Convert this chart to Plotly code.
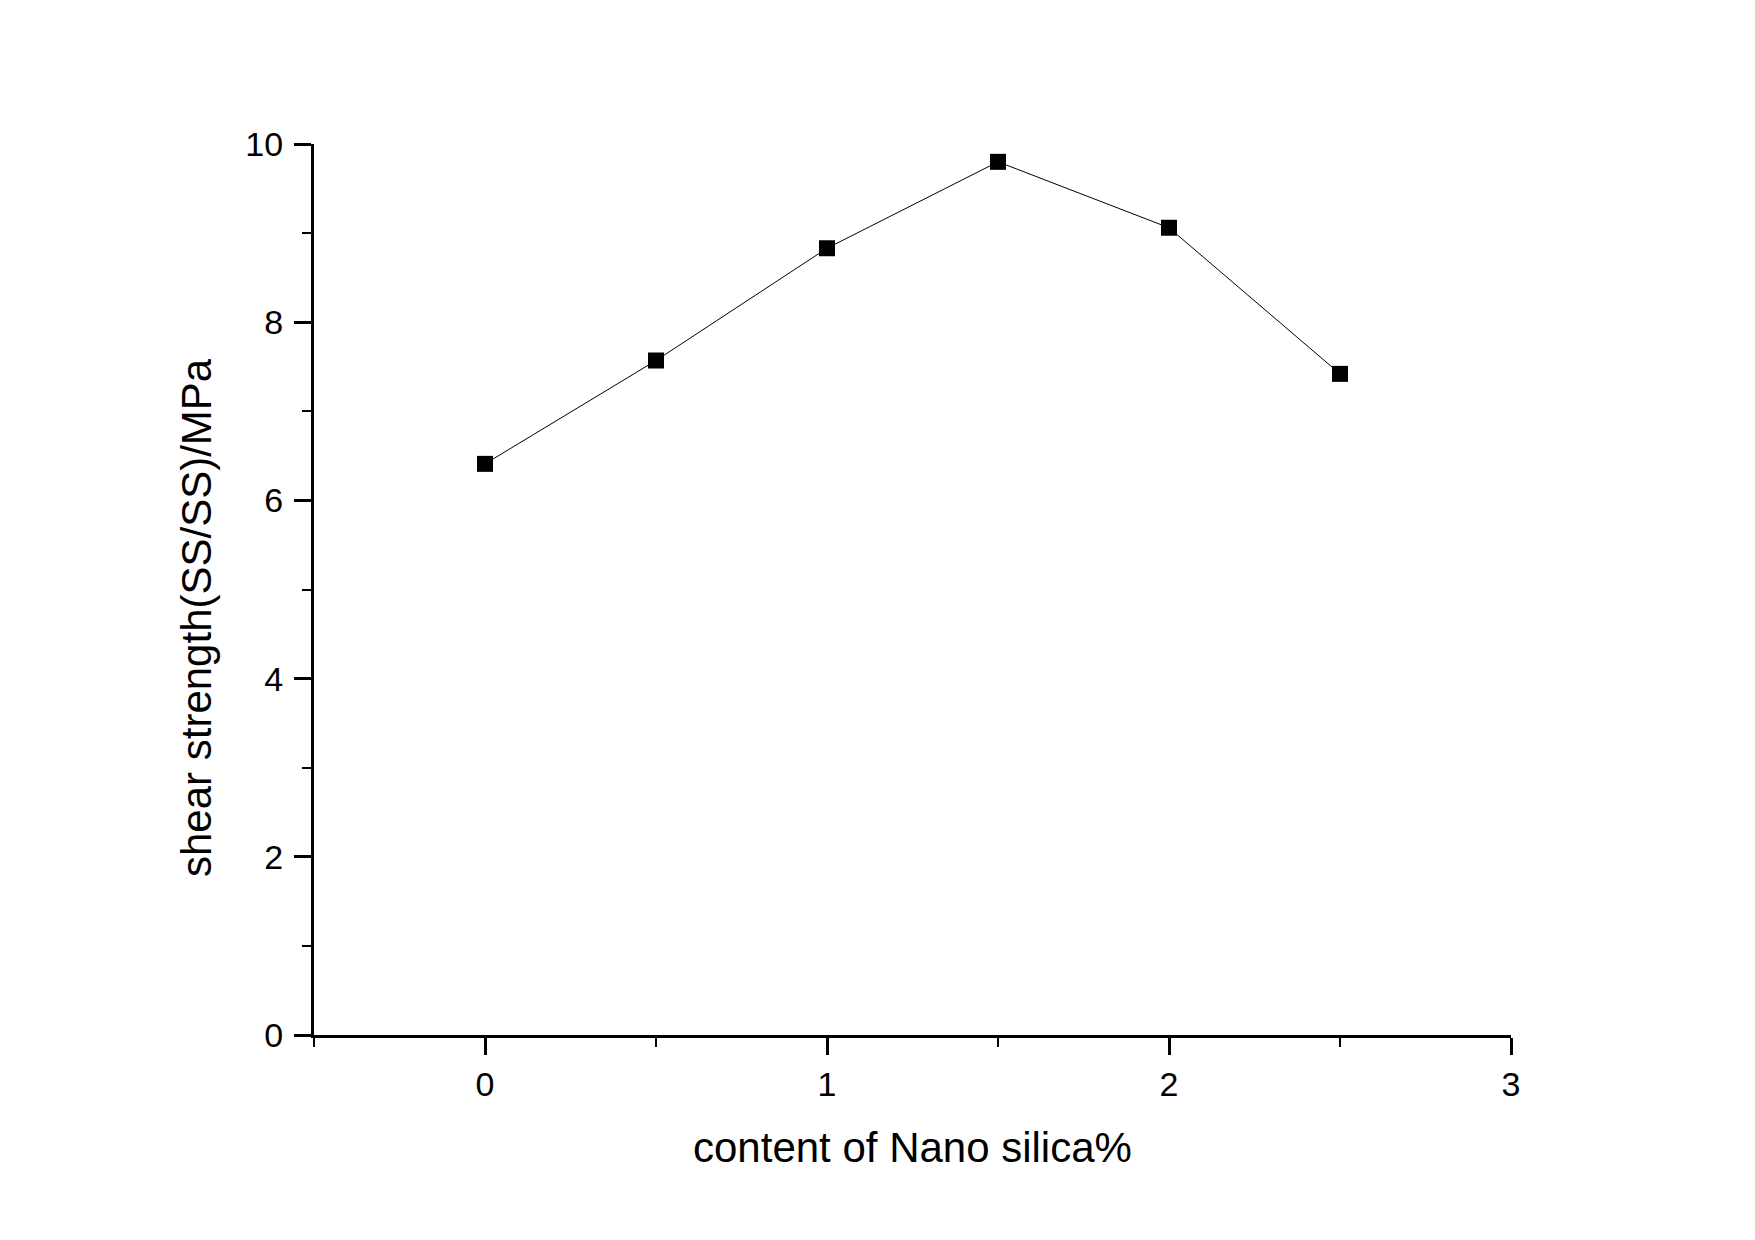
import plotly.graph_objects as go

nano_silica = [0, 0.5, 1.0, 1.5, 2.0, 2.5]
shear_strength = [6.41, 7.57, 8.83, 9.80, 9.06, 7.42]
x_tick_vals = [0, 1, 2, 3]
y_tick_vals = [0, 2, 4, 6, 8, 10]

FONT = "Liberation Sans, Arial, sans-serif"

# page body has an 8px margin; plot area target (page px): x 314..1511, y 144..1035
OFF = 8
L, R, T, B = 314 - OFF, 1511 - OFF, 144 - OFF, 1035 - OFF

fig = go.Figure()
fig.add_trace(go.Scatter(
    x=nano_silica, y=shear_strength,
    mode="lines+markers",
    line=dict(color="black", width=1),
    marker=dict(symbol="square", size=16, color="black"),
    showlegend=False,
))

fig.update_layout(
    width=1755, height=1240,
    paper_bgcolor="white", plot_bgcolor="white",
    margin=dict(l=L, r=1755 - R, t=T, b=1240 - B),
    font=dict(family=FONT, color="black"),
)
fig.update_xaxes(
    range=[-0.5, 3], showgrid=False, zeroline=False,
    showline=True, linecolor="black", linewidth=3,
    tickmode="array", tickvals=x_tick_vals,
    ticks="outside", ticklen=17, tickwidth=3, tickcolor="black",
    tickfont=dict(size=34, family=FONT, color="black"),
    ticklabelstandoff=0,
    minor=dict(dtick=0.5, tick0=0, ticks="outside", ticklen=9, tickwidth=2, tickcolor="black"),
)
fig.update_yaxes(
    range=[0, 10], showgrid=False, zeroline=False,
    showline=True, linecolor="black", linewidth=3,
    tickmode="array", tickvals=y_tick_vals,
    ticks="outside", ticklen=17, tickwidth=3, tickcolor="black",
    tickfont=dict(size=34, family=FONT, color="black"),
    ticklabelstandoff=4,
    minor=dict(dtick=1, tick0=0, ticks="outside", ticklen=9, tickwidth=2, tickcolor="black"),
)

fig.add_annotation(
    text="content of Nano silica%", xref="paper", yref="paper",
    x=0.5, y=-(1147 - 1035) / (1035 - 144), xanchor="center", yanchor="middle",
    showarrow=False, font=dict(size=42, family=FONT, color="black"),
)
fig.add_annotation(
    text="shear strength(SS/SS)/MPa", xref="paper", yref="paper",
    x=(196 - 314) / (1511 - 314), y=(1035 - 618) / (1035 - 144),
    xanchor="center", yanchor="middle", textangle=-90,
    showarrow=False, font=dict(size=42, family=FONT, color="black"),
)

fig.write_html("out.html")
